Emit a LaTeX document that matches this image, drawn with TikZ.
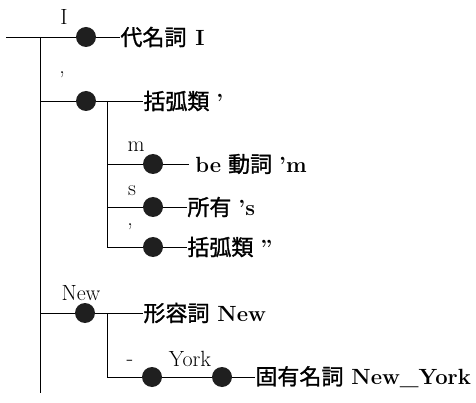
\documentclass[tikz,border=0pt]{standalone}
\usepackage{fontspec}
\newfontfamily\cjk{Noto Sans CJK JP}[FakeBold=1.2]
\begin{document}
\begin{tikzpicture}[x=1pt,y=-1pt, line width=0.9pt,
  dot/.style={circle,fill=black!88,inner sep=0pt,minimum size=20pt},
  lbl/.style={inner sep=0pt,font=\fontsize{22}{25}\selectfont},
  txt/.style={anchor=west,inner sep=0pt,font=\fontsize{22}{25}\selectfont}]
\useasboundingbox (0,0) rectangle (476,403);
% junction coordinates
\coordinate (top0) at (6,37);
\coordinate (j1) at (40,37);
\coordinate (j2) at (40,101);
\coordinate (j6) at (40,313);
\coordinate (jend) at (40,393);
\coordinate (b2) at (107,101);
\coordinate (b3) at (107,164);
\coordinate (b4) at (107,207);
\coordinate (b5) at (107,247);
\coordinate (b6) at (107,313);
\coordinate (b7) at (107,377);
% dots
\node[dot] (d1) at (86,37) {};
\node[dot] (d2) at (86,101) {};
\node[dot] (d3) at (153,164) {};
\node[dot] (d4) at (153,207) {};
\node[dot] (d5) at (153,247) {};
\node[dot] (d6) at (85,313) {};
\node[dot] (d7) at (152,377) {};
\node[dot] (d8) at (222,377) {};
% labels
\node[lbl] (l1) at (64,17) {I};
\node[lbl] (l2) at (62,75) {,};
\node[lbl] (l3) at (136,147) {m};
\node[lbl] (l4) at (132,191) {s};
\node[lbl] (l5) at (130,227) {,};
\node[lbl] (l6) at (81,293) {New};
\node[lbl] (l7) at (130,363) {-};
\node[lbl] (l8) at (190,359) {York};
% texts
\node[txt] (t1) at (120,37) {{\cjk 代名詞}\hspace{9pt}\textbf{I}};
\node[txt] (t2) at (143,101) {{\cjk 括弧類}\hspace{7pt}\textbf{’}};
\node[txt] (t3) at (195,164) {\textbf{be}\hspace{7pt}{\cjk 動詞}\hspace{7pt}\textbf{’m}};
\node[txt] (t4) at (187,207) {{\cjk 所有}\hspace{7pt}\textbf{’s}};
\node[txt] (t5) at (187,247) {{\cjk 括弧類}\hspace{7pt}\textbf{”}};
\node[txt] (t6) at (143,313) {{\cjk 形容詞}\hspace{8pt}\textbf{New}};
\node[txt] (t7) at (255,377) {{\cjk 固有名詞}\hspace{8pt}\textbf{New\textunderscore York}};
% connectors
\draw (top0) -- (d1);
\draw (j1) -- (jend);
\draw (j2) -- (d2);
\draw (j6) -- (d6);
\draw (d1) -- (t1.west);
\draw (d2) -- (t2.west);
\draw (b2) -- (b5);
\draw (b3) -- (d3);
\draw (b4) -- (d4);
\draw (b5) -- (d5);
\draw[shorten >=6pt] (d3) -- (t3.west);
\draw (d4) -- (t4.west);
\draw (d5) -- (t5.west);
\draw (d6) -- (t6.west);
\draw (b6) -- (b7) -- (d7);
\draw (d7) -- (d8);
\draw (d8) -- (t7.west);
\end{tikzpicture}
\end{document}
